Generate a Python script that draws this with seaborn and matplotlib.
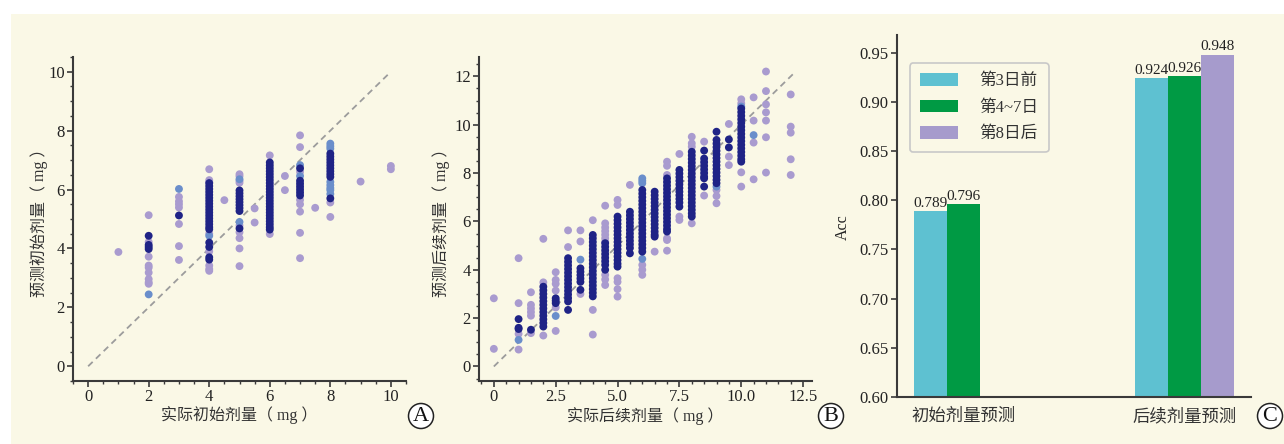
import numpy as np
import pandas as pd
import matplotlib
matplotlib.use("Agg")
import matplotlib.pyplot as plt
import seaborn as sns
from matplotlib.patches import Rectangle, Ellipse
from matplotlib.ticker import MultipleLocator

# ---------------- data ----------------
GROUPS = ["g_light", "g_mid", "g_dark"]
SCATTER_COLORS = {"g_light": "#A99BCF", "g_mid": "#6A8ECB", "g_dark": "#1F2386"}

# Panel A: actual initial dose -> predicted initial dose (columns: x, [y values])
A_LIGHT = [
    (1, [3.88]),
    (2, [5.13, 4.22, 3.72, 3.42, 3.35, 3.18, 2.96, 2.85, 2.80]),
    (3, [5.75, 5.60, 5.50, 5.39, 4.83, 4.08, 3.61]),
    (4, [6.69, 6.32, 6.25, 4.50, 3.90, 3.42, 3.30, 3.24]),
    (4.5, [5.64]),
    (5, [6.52, 6.45, 6.30, 6.23, 4.78, 4.55, 4.35, 4.00, 3.40]),
    (5.5, [5.36, 4.88]),
    (6, [7.16, 4.49]),
    (6.5, [6.46, 5.98]),
    (7, [7.84, 7.44, 6.60, 5.65, 5.50, 5.25, 4.53, 3.67]),
    (7.5, [5.38]),
    (8, [5.56, 5.07]),
    (9, [6.27]),
    (10, [6.80, 6.69]),
]
A_MID = [
    (2, [2.44]),
    (3, [6.02]),
    (4, [4.43]),
    (5, [6.35, 4.90]),
    (7, [6.83, 6.46]),
    (8, [7.56, 7.47, 7.39, 6.26, 6.15, 6.05, 5.98, 5.85]),
]
A_DARK = [
    (2, [4.43, 4.12, 4.05, 3.98]),
    (3, [5.12]),
    (4, [6.22, 6.12, 6.02, 5.92, 5.82, 5.72, 5.62, 5.52, 5.42, 5.32, 5.22, 5.12,
         5.02, 4.92, 4.82, 4.72, 4.65, 4.20, 4.05, 3.70, 3.62]),
    (5, [5.97, 5.87, 5.77, 5.67, 5.57, 5.47, 5.37, 5.27, 4.68]),
    (6, [6.92, 6.82, 6.72, 6.62, 6.52, 6.42, 6.32, 6.22, 6.12, 6.02, 5.92, 5.82,
         5.72, 5.62, 5.52, 5.42, 5.32, 5.22, 5.12, 5.02, 4.92, 4.82, 4.72, 4.64]),
    (7, [6.72, 6.30, 6.20, 6.10, 6.00, 5.90, 5.80]),
    (8, [7.22, 7.12, 7.02, 6.92, 6.82, 6.72, 6.62, 6.52, 6.43, 5.70]),
]

# Panel B: actual subsequent dose -> predicted subsequent dose
B_LIGHT = [
    (0, [2.82, 0.73]),
    (1, [4.48, 2.62, 1.35, 0.70]),
    (1.5, [3.07, 2.55, 2.40, 2.25, 2.10, 1.38]),
    (2, [5.28, 3.48, 1.28]),
    (2.5, [3.90, 3.58, 3.42, 3.14, 2.44, 1.47]),
    (3, [5.63, 4.94]),
    (3.5, [5.63, 5.17, 3.00]),
    (4, [6.05, 2.34, 1.32]),
    (4.5, [6.65, 5.92, 5.75, 5.60, 5.45, 5.30, 5.15, 3.79, 3.60, 3.37]),
    (5, [6.89, 6.68, 3.65, 3.50, 3.20, 2.89]),
    (5.5, [7.51]),
    (6, [4.20, 4.00, 3.79]),
    (6.5, [4.75]),
    (7, [8.47, 8.30, 7.92, 5.30, 5.23, 4.79]),
    (7.5, [8.79, 6.20, 6.06]),
    (8, [9.50, 9.23, 9.09, 5.92]),
    (8.5, [9.30, 7.07]),
    (9, [7.30, 7.05, 6.75]),
    (9.5, [10.03, 8.68, 8.33]),
    (10, [11.05, 10.88, 8.03, 7.44]),
    (10.5, [11.13, 10.17, 9.26, 7.74]),
    (11, [12.20, 11.39, 10.84, 10.51, 10.17, 9.48, 8.02]),
    (12, [11.25, 9.92, 9.67, 8.57, 7.92]),
]
B_MID = [
    (1, [1.10]),
    (2.5, [2.09]),
    (3.5, [4.42]),
    (6, [7.78, 7.68, 7.58, 4.45]),
    (9, [7.44]),
    (10, [10.75]),
    (10.5, [9.57]),
]
B_DARK = [
    (1, [1.96, 1.60, 1.55]),
    (1.5, [1.52]),
    (2, [3.30, 3.15, 3.00, 2.85, 2.70, 2.55, 2.40, 2.25, 2.10, 1.95, 1.80, 1.65]),
    (2.5, [2.82, 2.72, 2.62]),
    (3, [4.48, 4.33, 4.18, 4.03, 3.88, 3.73, 3.58, 3.43, 3.28, 3.13, 2.98, 2.83, 2.69, 2.34]),
    (3.5, [4.06, 3.92, 3.78, 3.64, 3.50, 3.17]),
    (4, [5.44, 5.30, 5.15, 5.00, 4.85, 4.70, 4.55, 4.40, 4.25, 4.10, 3.95, 3.80,
         3.65, 3.50, 3.35, 3.20, 3.05, 2.90]),
    (4.5, [5.10, 4.95, 4.80, 4.65, 4.50, 4.35, 4.20, 4.00]),
    (5, [6.20, 6.05, 5.90, 5.75, 5.60, 5.45, 5.30, 5.15, 5.00, 4.85, 4.70, 4.55,
         4.40, 4.25, 4.13]),
    (5.5, [6.40, 6.25, 6.10, 5.95, 5.80, 5.65, 5.50, 5.35, 5.20, 5.05, 4.90, 4.68]),
    (6, [7.30, 7.15, 7.00, 6.85, 6.70, 6.55, 6.40, 6.25, 6.10, 5.95, 5.80, 5.65,
         5.50, 5.35, 5.20, 5.05, 4.90, 4.75]),
    (6.5, [7.23, 7.08, 6.93, 6.78, 6.63, 6.48, 6.33, 6.18, 6.03, 5.88, 5.73, 5.58, 5.45, 5.37]),
    (7, [7.78, 7.63, 7.48, 7.33, 7.18, 7.03, 6.88, 6.73, 6.58, 6.43, 6.28, 6.13,
         5.98, 5.83, 5.68, 5.58]),
    (7.5, [8.13, 7.98, 7.83, 7.68, 7.53, 7.38, 7.23, 7.08, 6.93, 6.78, 6.61]),
    (8, [8.88, 8.73, 8.58, 8.43, 8.28, 8.13, 7.98, 7.83, 7.68, 7.53, 7.38, 7.23,
         7.08, 6.93, 6.78, 6.63, 6.48, 6.33, 6.20]),
    (8.5, [8.93, 8.60, 8.45, 8.30, 8.15, 8.00, 7.85, 7.78, 7.44]),
    (9, [9.71, 9.37, 9.22, 9.07, 8.92, 8.77, 8.62, 8.47, 8.32, 8.17, 8.02, 7.87, 7.72, 7.58]),
    (9.5, [9.39, 9.06]),
    (10, [10.67, 10.52, 10.37, 10.22, 10.07, 9.92, 9.77, 9.62, 9.47, 9.32, 9.17,
          9.02, 8.87, 8.72, 8.57, 8.47]),
]

# Panel C: accuracy bars
TASKS = ["初始剂量预测", "后续剂量预测"]
PERIODS = ["第3日前", "第4~7日", "第8日后"]
ACC_TASK = ["初始剂量预测", "初始剂量预测", "后续剂量预测", "后续剂量预测", "后续剂量预测"]
ACC_PERIOD = ["第3日前", "第4~7日", "第3日前", "第4~7日", "第8日后"]
ACC_VALUE = [0.789, 0.796, 0.924, 0.926, 0.948]
BAR_COLORS = ["#5EC1D1", "#009A44", "#A69BCC"]

# ---------------- style ----------------
sns.set_theme(style="ticks")
plt.rcParams['font.family'] = ['Liberation Serif', 'Noto Sans CJK SC', 'DejaVu Sans']
plt.rcParams['axes.unicode_minus'] = False

CREAM = "#FAF8E6"
SPINE = "#3A3A3A"
TXT = "#222222"
LABEL_TXT = "#333333"


def to_frame(light, mid, dark):
    rows = []
    for name, cols in zip(GROUPS, [light, mid, dark]):
        for x, ys in cols:
            for y in ys:
                rows.append((x, y, name))
    return pd.DataFrame(rows, columns=["actual", "pred", "group"])


def style_axis(ax):
    sns.despine(ax=ax)
    for s in ["left", "bottom"]:
        ax.spines[s].set_color(SPINE)
        ax.spines[s].set_linewidth(1.5)
    ax.set_facecolor("none")
    ax.tick_params(axis="both", which="major", length=4, width=1.2, color=SPINE,
                   labelsize=12, labelcolor=TXT, pad=2)
    ax.tick_params(axis="both", which="minor", length=2.5, width=1.0, color=SPINE)


fig = plt.figure(figsize=(12.84, 4.44), dpi=100)
fig.patch.set_facecolor("white")
fig.add_artist(Rectangle((11 / 1284, 0), 1 - 11 / 1284, 430 / 444,
                         transform=fig.transFigure, fc=CREAM, ec="none", zorder=-10))

W, H = 1284.0, 444.0


def add_ax(l, t, r, b):
    return fig.add_axes([l / W, 1 - b / H, (r - l) / W, (b - t) / H])


# Panel A
axA = add_ax(73, 57, 406, 381)
dfA = to_frame(A_LIGHT, A_MID, A_DARK)
axA.plot([0, 10], [0, 10], ls=(0, (3.5, 2.5)), color="#9C9C9C", lw=1.3, zorder=1)
sns.scatterplot(data=dfA, x="actual", y="pred", hue="group", hue_order=GROUPS,
                palette=SCATTER_COLORS, s=32, linewidth=0, legend=False, ax=axA, zorder=2)
axA.set_xlim(-0.5, 10.5)
axA.set_ylim(-0.5, 10.5)
axA.xaxis.set_major_locator(MultipleLocator(2))
axA.xaxis.set_minor_locator(MultipleLocator(0.5))
axA.yaxis.set_major_locator(MultipleLocator(2))
axA.yaxis.set_minor_locator(MultipleLocator(0.5))
style_axis(axA)
axA.set_xlabel("实际初始剂量（ mg ）", fontsize=11.5, color=LABEL_TXT)
axA.set_ylabel("预测初始剂量（ mg ）", fontsize=11.5, color=LABEL_TXT)
axA.xaxis.set_label_coords(0.5, -0.077)
axA.yaxis.set_label_coords(-0.076, 0.5)

# Panel B
axB = add_ax(479, 57, 812, 381)
dfB = to_frame(B_LIGHT, B_MID, B_DARK)
axB.plot([0, 12.2], [0, 12.2], ls=(0, (3.5, 2.5)), color="#9C9C9C", lw=1.3, zorder=1)
sns.scatterplot(data=dfB, x="actual", y="pred", hue="group", hue_order=GROUPS,
                palette=SCATTER_COLORS, s=32, linewidth=0, legend=False, ax=axB, zorder=2)
axB.set_xlim(-0.6, 12.86)
axB.set_ylim(-0.6, 12.8)
axB.xaxis.set_major_locator(MultipleLocator(2.5))
axB.xaxis.set_minor_locator(MultipleLocator(0.5))
axB.xaxis.set_major_formatter(matplotlib.ticker.FuncFormatter(lambda v, p: "0" if v == 0 else f"{v:.1f}"))
axB.yaxis.set_major_locator(MultipleLocator(2))
axB.yaxis.set_minor_locator(MultipleLocator(0.5))
style_axis(axB)
axB.set_xlabel("实际后续剂量（ mg ）", fontsize=11.5, color=LABEL_TXT)
axB.set_ylabel("预测后续剂量（ mg ）", fontsize=11.5, color=LABEL_TXT)
axB.xaxis.set_label_coords(0.5, -0.08)
axB.yaxis.set_label_coords(-0.088, 0.5)

# Panel C
axC = add_ax(897, 35, 1251, 397)
dfC = pd.DataFrame({"task": ACC_TASK, "period": ACC_PERIOD, "acc": ACC_VALUE})
sns.barplot(data=dfC, x="task", y="acc", hue="period", order=TASKS, hue_order=PERIODS,
            palette=BAR_COLORS, width=0.45, gap=0, saturation=1, errorbar=None,
            linewidth=0, ax=axC)
axC.set_ylim(0.60, 0.968)
axC.set_xlim(-0.3, 1.3)
axC.yaxis.set_major_locator(MultipleLocator(0.05))
axC.yaxis.set_major_formatter(matplotlib.ticker.FormatStrFormatter("%.2f"))
style_axis(axC)
axC.tick_params(axis="x", which="major", length=0, pad=8, labelsize=12.5, labelcolor=LABEL_TXT)
for c in axC.containers:
    axC.bar_label(c, fmt="%.3f", padding=1, fontsize=11, color=TXT)
axC.set_xlabel("")
axC.set_ylabel("Acc", fontsize=11.5, color=TXT)
axC.yaxis.set_label_coords(-0.13, 0.47)
leg = axC.legend(loc="upper left", bbox_to_anchor=(0.012, 0.945), frameon=True,
                 fontsize=12, handlelength=2.3, handleheight=0.8, labelspacing=0.62,
                 borderpad=0.6, handletextpad=1.3, title=None, fancybox=True)
leg.get_frame().set_edgecolor("#C8C8C8")
leg.get_frame().set_facecolor(CREAM)
leg.get_frame().set_alpha(1)
leg.get_frame().set_linewidth(1.2)
for t in leg.get_texts():
    t.set_color(LABEL_TXT)

# circled panel letters
for letter, px, py in [("A", 421, 416), ("B", 831, 416), ("C", 1270, 416)]:
    fig.add_artist(Ellipse((px / W, 1 - py / H), 25 / W, 25 / H, transform=fig.transFigure,
                           fc="white", ec="#222222", lw=1.1, zorder=5))
    fig.text(px / W, 1 - py / H - 0.5 / H, letter, ha="center", va="center", fontsize=16,
             family="Liberation Serif", color="#111111", zorder=6)

fig.savefig("out.png", dpi=100, facecolor=fig.get_facecolor())
